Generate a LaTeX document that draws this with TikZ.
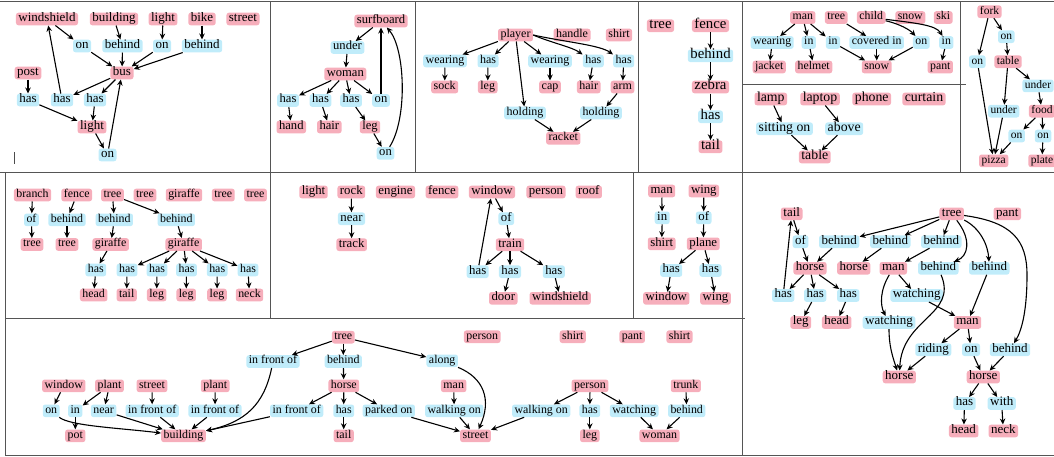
\documentclass[tikz,border=0pt]{standalone}
\usepackage{fontspec}
\setmainfont{Liberation Serif}
\usetikzlibrary{arrows.meta}
\definecolor{objc}{RGB}{246,174,187}
\definecolor{relc}{RGB}{192,236,250}
\definecolor{framec}{RGB}{85,85,85}
\begin{document}
\begin{tikzpicture}[x=1pt,y=-1pt,
  obj/.style={fill=objc, rounded corners=2.5pt, inner xsep=2.5pt, inner ysep=1.8pt,
              text height=0.69em, text depth=0.21em},
  rel/.style={obj, fill=relc},
  arr/.style={-{Stealth[length=6pt,width=5.5pt]}, line width=1.1pt, black},
  frame/.style={draw=framec, line width=0.9pt},
  fs/.style={font=\fontsize{#1}{#1}\selectfont}]
\useasboundingbox (0,0) rectangle (1054,456);

% ---------- panel frames ----------
\draw[frame] (0,1.5) -- (1054,1.5);
\draw[frame] (0,172.5) -- (1054,172.5);
\draw[frame] (5,318.5) -- (745,318.5);
\draw[frame] (5,455) -- (1054,455);
\draw[frame] (5,172.5) -- (5,455);
\draw[frame] (270,1.5) -- (270,318.5);
\draw[frame] (415,1.5) -- (415,172.5);
\draw[frame] (638,1.5) -- (638,172.5);
\draw[frame] (742,1.5) -- (742,455);
\draw[frame] (960,1.5) -- (960,172.5);
\draw[frame] (742,84.5) -- (966,84.5);
\draw[frame] (633,172.5) -- (633,318.5);
\draw[line width=0.8pt, black!70] (14.3,152) -- (14.3,164);

% ---------- bus ----------
\begin{scope}[fs=13]
\node[obj] (a1) at (47,19) {windshield};
\node[obj] (a2) at (114,19) {building};
\node[obj] (a3) at (163,19) {light};
\node[obj] (a4) at (202,19) {bike};
\node[obj] (a5) at (243,19) {street};
\node[rel] (a6) at (82,46) {on};
\node[rel] (a7) at (122.5,46) {behind};
\node[rel] (a8) at (162,46) {on};
\node[rel] (a9) at (202,46) {behind};
\node[obj] (a10) at (122,73) {bus};
\node[obj] (a11) at (28,73) {post};
\node[rel] (a12) at (28,100) {has};
\node[rel] (a13) at (62,100) {has};
\node[rel] (a14) at (95,100) {has};
\node[obj] (a15) at (92,127) {light};
\node[rel] (a16) at (107.5,155) {on};
\end{scope}
\draw[arr] (a1) -- (a6);
\draw[arr] (a2) -- (a7);
\draw[arr] (a3) -- (a8);
\draw[arr] (a4) -- (a9);
\draw[arr] (a6) -- (a10);
\draw[arr] (a7) -- (a10);
\draw[arr] (a8) -- (a10);
\draw[arr] (a9) -- (a10);
\draw[arr] (a10) -- (a13);
\draw[arr] (a10) -- (a14);
\draw[arr] (a11) -- (a12);
\draw[arr] (a12) -- (a15);
\draw[arr] (a13) -- (a1);
\draw[arr] (a14) -- (a15);
\draw[arr] (a15) -- (a16);
\draw[arr] (a16) -- (a10);

% ---------- surfboard ----------
\begin{scope}[fs=12.6]
\node[obj] (b1) at (381,21) {surfboard};
\node[rel] (b2) at (347.5,47.5) {under};
\node[obj] (b3) at (345.3,74) {woman};
\node[rel] (b4) at (288,100.5) {has};
\node[rel] (b5) at (320.5,100.5) {has};
\node[rel] (b6) at (351,100.5) {has};
\node[rel] (b7) at (381,100.5) {on};
\node[obj] (b8) at (291.3,127) {hand};
\node[obj] (b9) at (329.3,127) {hair};
\node[obj] (b10) at (370,127) {leg};
\node[rel] (b11) at (385.5,153.3) {on};
\end{scope}
\draw[arr] (b1) -- (b2);
\draw[arr] (b2) -- (b3);
\draw[arr] (b3) -- (b4);
\draw[arr] (b3) -- (b5);
\draw[arr] (b3) -- (b6);
\draw[arr] (b3) -- (b7);
\draw[arr] (b7) -- (b7 |- b1.south);
\draw[arr] (b4) -- (b8);
\draw[arr] (b5) -- (b9);
\draw[arr] (b6) -- (b10);
\draw[arr] (b10) -- (b11);
\draw[arr] (b11) .. controls (408,118) and (405,48) .. (b1);

% ---------- player ----------
\begin{scope}[fs=12]
\node[obj] (c1) at (515.5,35) {player};
\node[obj] (c2) at (572,35) {handle};
\node[obj] (c3) at (619,35) {shirt};
\node[rel] (c4) at (445,61) {wearing};
\node[rel] (c5) at (488,61) {has};
\node[rel] (c6) at (550,61) {wearing};
\node[rel] (c7) at (593.3,61) {has};
\node[rel] (c8) at (623.7,61) {has};
\node[obj] (c9) at (444.7,87) {sock};
\node[obj] (c10) at (487.7,87) {leg};
\node[obj] (c11) at (550,87) {cap};
\node[obj] (c12) at (588.7,87) {hair};
\node[obj] (c13) at (622.5,87) {arm};
\node[rel] (c14) at (525,113) {holding};
\node[rel] (c15) at (601,113) {holding};
\node[obj] (c16) at (563.3,138.3) {racket};
\end{scope}
\draw[arr] (c1) -- (c4);
\draw[arr] (c1) -- (c5);
\draw[arr] (c1) -- (c14);
\draw[arr] (c1) -- (c6);
\draw[arr] (c1.east) .. controls (552,43) and (572,47) .. (c7.north west);
\draw[arr] (c1.east) .. controls (565,42) and (600,45) .. (c8.north west);
\draw[arr] (c4) -- (c9);
\draw[arr] (c5) -- (c10);
\draw[arr] (c6) -- (c11);
\draw[arr] (c7) -- (c12);
\draw[arr] (c8) -- (c13);
\draw[arr] (c13) -- (c15);
\draw[arr] (c14) -- (c16);
\draw[arr] (c15) -- (c16);

% ---------- zebra ----------
\begin{scope}[fs=14.8]
\node[obj] (d1) at (660.5,25.7) {tree};
\node[obj] (d2) at (710.5,25.7) {fence};
\node[rel] (d3) at (710.5,55.8) {behind};
\node[obj] (d4) at (710.5,87) {zebra};
\node[rel] (d5) at (710.5,116.7) {has};
\node[obj] (d6) at (710.5,146.7) {tail};
\end{scope}
\draw[arr] (d2) -- (d3);
\draw[arr] (d3) -- (d4);
\draw[arr] (d4) -- (d5);
\draw[arr] (d5) -- (d6);

% ---------- skiing ----------
\begin{scope}[fs=11.8]
\node[obj] (e1) at (802.8,17.5) {man};
\node[obj] (e2) at (836.2,17.5) {tree};
\node[obj] (e3) at (871.2,17.5) {child};
\node[obj] (e4) at (910.3,17.5) {snow};
\node[obj] (e5) at (943.2,17.5) {ski};
\node[rel] (e6) at (772.2,42.5) {wearing};
\node[rel] (e7) at (808.8,42.5) {in};
\node[rel] (e8) at (833,42.5) {in};
\node[rel] (e9) at (876.7,42.5) {covered in};
\node[rel] (e10) at (921.3,42.5) {on};
\node[rel] (e11) at (946.3,42.5) {in};
\node[obj] (e12) at (769.2,67) {jacket};
\node[obj] (e13) at (813.7,67) {helmet};
\node[obj] (e14) at (876.7,67) {snow};
\node[obj] (e15) at (940.3,67) {pant};
\end{scope}
\draw[arr] (e1) -- (e6);
\draw[arr] (e1) -- (e7);
\draw[arr] (e1) -- (e8);
\draw[arr] (e2) -- (e9);
\draw[arr] (e3) .. controls (900,24) and (910,30) .. (e10);
\draw[arr] (e3) .. controls (915,23) and (936,25) .. (e11);
\draw[arr] (e6) -- (e12);
\draw[arr] (e7) -- (e13);
\draw[arr] (e8) -- (e14);
\draw[arr] (e9) -- (e14);
\draw[arr] (e10) -- (e14);
\draw[arr] (e11) -- (e15);

% ---------- table ----------
\begin{scope}[fs=13.8]
\node[obj] (e16) at (770.8,99) {lamp};
\node[obj] (e17) at (820,99) {laptop};
\node[obj] (e18) at (871.7,99) {phone};
\node[obj] (e19) at (924,99) {curtain};
\node[rel] (e20) at (784.5,128.7) {sitting on};
\node[rel] (e21) at (844.2,128.7) {above};
\node[obj] (e22) at (814.8,157) {table};
\end{scope}
\draw[arr] (e16) -- (e20);
\draw[arr] (e17) -- (e21);
\draw[arr] (e20) -- (e22);
\draw[arr] (e21) -- (e22);

% ---------- pizza ----------
\begin{scope}[fs=11.5]
\node[obj] (f1) at (989.5,11.7) {fork};
\node[rel] (f2) at (1006.3,36.7) {on};
\node[rel] (f3) at (977.3,61.7) {on};
\node[obj] (f4) at (1008,61.7) {table};
\node[rel] (f5) at (1038,85.8) {under};
\node[rel] (f6) at (1003.7,111.2) {under};
\node[obj] (f7) at (1042,111.2) {food};
\node[rel] (f8) at (1016.7,136) {on};
\node[rel] (f9) at (1043,136) {on};
\node[obj] (f10) at (993.7,160.8) {pizza};
\node[obj] (f11) at (1042,160.8) {plate};
\end{scope}
\draw[arr] (f1) -- (f3);
\draw[arr] (f1) -- (f2);
\draw[arr] (f2) -- (f4);
\draw[arr] (f4) -- (f5);
\draw[arr] (f4) -- (f6);
\draw[arr] (f5) -- (f7);
\draw[arr] (f3) -- (f10);
\draw[arr] (f6) -- (f10);
\draw[arr] (f7) -- (f8);
\draw[arr] (f7) -- (f9);
\draw[arr] (f8) -- (f10);
\draw[arr] (f9) -- (f11);

% ---------- giraffes ----------
\begin{scope}[fs=11.9]
\node[obj] (g1) at (32.5,195) {branch};
\node[obj] (g2) at (76.7,195) {fence};
\node[obj] (g3) at (112.5,195) {tree};
\node[obj] (g4) at (145,195) {tree};
\node[obj] (g5) at (184,195) {giraffe};
\node[obj] (g6) at (223.3,195) {tree};
\node[obj] (g7) at (255.5,195) {tree};
\node[rel] (g8) at (31.5,219.8) {of};
\node[rel] (g9) at (67,219.8) {behind};
\node[rel] (g10) at (114.3,219.8) {behind};
\node[rel] (g11) at (176.3,219.8) {behind};
\node[obj] (g12) at (32,244.5) {tree};
\node[obj] (g13) at (67,244.5) {tree};
\node[obj] (g14) at (110.7,244.5) {giraffe};
\node[obj] (g15) at (183.7,244.5) {giraffe};
\node[rel] (g16) at (95.8,270) {has};
\node[rel] (g17) at (127,270) {has};
\node[rel] (g18) at (157,270) {has};
\node[rel] (g19) at (186.5,270) {has};
\node[rel] (g20) at (217.2,270) {has};
\node[rel] (g21) at (248,270) {has};
\node[obj] (g22) at (93.7,295) {head};
\node[obj] (g23) at (126.7,295) {tail};
\node[obj] (g24) at (156.7,295) {leg};
\node[obj] (g25) at (186.2,295) {leg};
\node[obj] (g26) at (217,295) {leg};
\node[obj] (g27) at (249.5,295) {neck};
\end{scope}
\draw[arr] (g1) -- (g8);
\draw[arr] (g8) -- (g12);
\draw[arr] (g2) -- (g9);
\draw[arr] (g9) -- (g13);
\draw[arr] (g3) -- (g10);
\draw[arr] (g10) -- (g14);
\draw[arr] (g3) -- (g11);
\draw[arr] (g11) -- (g15);
\draw[arr] (g14) -- (g16);
\draw[arr] (g16) -- (g22);
\foreach \h/\t in {g17/g23,g18/g24,g19/g25,g20/g26,g21/g27} {
  \draw[arr] (g15) -- (\h);
  \draw[arr] (\h) -- (\t);
}

% ---------- train ----------
\begin{scope}[fs=12.8]
\node[obj] (h1) at (313.5,192) {light};
\node[obj] (h2) at (351.3,192) {rock};
\node[obj] (h3) at (395.5,192) {engine};
\node[obj] (h4) at (442,192) {fence};
\node[obj] (h5) at (492,192) {window};
\node[obj] (h6) at (546,192) {person};
\node[obj] (h7) at (588.8,192) {roof};
\node[rel] (h8) at (351.5,218.7) {near};
\node[obj] (h9) at (351.7,244.7) {track};
\node[rel] (h10) at (506.3,218.7) {of};
\node[obj] (h11) at (510,244.7) {train};
\node[rel] (h12) at (477.7,271.7) {has};
\node[rel] (h13) at (510,271.7) {has};
\node[rel] (h14) at (553.8,271.7) {has};
\node[obj] (h15) at (503.3,298.3) {door};
\node[obj] (h16) at (560.2,298.3) {windshield};
\end{scope}
\draw[arr] (h2) -- (h8);
\draw[arr] (h8) -- (h9);
\draw[arr] (h5) -- (h10);
\draw[arr] (h10) -- (h11);
\draw[arr] (h11) -- (h12);
\draw[arr] (h11) -- (h13);
\draw[arr] (h11) -- (h14);
\draw[arr] (h12) -- (h5);
\draw[arr] (h13) -- (h15);
\draw[arr] (h14) -- (h16);

% ---------- plane ----------
\begin{scope}[fs=12.8]
\node[obj] (i1) at (661.7,191) {man};
\node[obj] (i2) at (703.8,191) {wing};
\node[rel] (i3) at (662.2,217.8) {in};
\node[rel] (i4) at (703.7,217.8) {of};
\node[obj] (i5) at (661.7,243.8) {shirt};
\node[obj] (i6) at (703.3,243.8) {plane};
\node[rel] (i7) at (671.2,270.5) {has};
\node[rel] (i8) at (710.5,270.5) {has};
\node[obj] (i9) at (666.3,298.3) {window};
\node[obj] (i10) at (715.5,298.3) {wing};
\end{scope}
\draw[arr] (i1) -- (i3);
\draw[arr] (i3) -- (i5);
\draw[arr] (i2) -- (i4);
\draw[arr] (i4) -- (i6);
\draw[arr] (i6) -- (i7);
\draw[arr] (i7) -- (i9);
\draw[arr] (i6) -- (i8);
\draw[arr] (i8) -- (i10);

% ---------- horses ----------
\begin{scope}[fs=13]
\node[obj] (j1) at (791.7,213.8) {tail};
\node[obj] (j2) at (951.7,213.8) {tree};
\node[obj] (j3) at (1007.3,213.8) {pant};
\node[rel] (j4) at (800.5,241.7) {of};
\node[rel] (j5) at (839.2,241.7) {behind};
\node[rel] (j6) at (890.3,241.7) {behind};
\node[rel] (j7) at (941.3,241.7) {behind};
\node[obj] (j8) at (810,268.3) {horse};
\node[obj] (j9) at (853.7,268.3) {horse};
\node[obj] (j10) at (893.3,268.3) {man};
\node[rel] (j11) at (938.3,268.3) {behind};
\node[rel] (j12) at (989.3,268.3) {behind};
\node[rel] (j13) at (783.2,295.5) {has};
\node[rel] (j14) at (815.2,295.5) {has};
\node[rel] (j15) at (848.3,295.5) {has};
\node[rel] (j16) at (916.7,295.5) {watching};
\node[obj] (j17) at (800.7,322.5) {leg};
\node[obj] (j18) at (836.7,322.5) {head};
\node[rel] (j19) at (889,322.5) {watching};
\node[obj] (j20) at (967.5,322.5) {man};
\node[rel] (j21) at (933.3,349.7) {riding};
\node[rel] (j22) at (971,349.7) {on};
\node[rel] (j23) at (1010,349.7) {behind};
\node[obj] (j24) at (899.3,377) {horse};
\node[obj] (j25) at (983.3,377) {horse};
\node[rel] (j26) at (964.5,403.5) {has};
\node[rel] (j27) at (1001.7,403.5) {with};
\node[obj] (j28) at (963.7,431) {head};
\node[obj] (j29) at (1003.3,431) {neck};
\end{scope}
\draw[arr] (j1) -- (j4);
\draw[arr] (j4) -- (j8);
\draw[arr] (j5) -- (j8);
\draw[arr] (j13) -- (j1);
\draw[arr] (j8) -- (j13);
\draw[arr] (j8) -- (j14);
\draw[arr] (j8) -- (j15);
\draw[arr] (j14) -- (j17);
\draw[arr] (j15) -- (j18);
\draw[arr] (j2) -- (j5);
\draw[arr] (j2) -- (j6);
\draw[arr] (j2) -- (j7);
\draw[arr] (j2) .. controls (972,240) and (968,256) .. (j11);
\draw[arr] (j2) .. controls (980,228) and (988,245) .. (j12);
\draw[arr] (j2) .. controls (1012,222) and (1027,240) .. (1027,275)
                .. controls (1027,310) and (1022,330) .. (j23);
\draw[arr] (j6) -- (j9);
\draw[arr] (j7) -- (j10);
\draw[arr] (j10) -- (j16);
\draw[arr] (j10) .. controls (880,290) and (880,305) .. (j19);
\draw[arr] (j16) -- (j20);
\draw[arr] (j19) .. controls (889,345) and (892,355) .. (j24);
\draw[arr] (j11) .. controls (958,315) and (902,318) .. (j24);
\draw[arr] (j12) -- (j20);
\draw[arr] (j20) -- (j21);
\draw[arr] (j20) -- (j22);
\draw[arr] (j21) -- (j24);
\draw[arr] (j22) -- (j25);
\draw[arr] (j23) -- (j25);
\draw[arr] (j25) -- (j26);
\draw[arr] (j25) -- (j27);
\draw[arr] (j26) -- (j28);
\draw[arr] (j27) -- (j29);

% ---------- street scene ----------
\begin{scope}[fs=11.9]
\node[obj] (k1) at (343.3,337.2) {tree};
\node[rel] (k2) at (273,361.5) {in front of};
\node[rel] (k3) at (343.3,361.5) {behind};
\node[rel] (k4) at (442.2,360.8) {along};
\node[obj] (k5) at (63.8,385.8) {window};
\node[obj] (k6) at (109.5,385.8) {plant};
\node[obj] (k7) at (152,385.8) {street};
\node[obj] (k8) at (215.2,385.8) {plant};
\node[obj] (k9) at (343.8,385.8) {horse};
\node[obj] (k10) at (453.7,385.8) {man};
\node[obj] (k11) at (590,385.8) {person};
\node[obj] (k12) at (685.8,385.8) {trunk};
\node[rel] (k13) at (51.2,410.8) {on};
\node[rel] (k14) at (75.3,410.8) {in};
\node[rel] (k15) at (103.7,410.8) {near};
\node[rel] (k16) at (152.2,410.8) {in front of};
\node[rel] (k17) at (215,410.8) {in front of};
\node[rel] (k18) at (296.7,410.8) {in front of};
\node[rel] (k19) at (343.7,410.8) {has};
\node[rel] (k20) at (388.8,410.8) {parked on};
\node[rel] (k21) at (454.2,410.8) {walking on};
\node[rel] (k22) at (541.2,410.8) {walking on};
\node[rel] (k23) at (589.8,410.8) {has};
\node[rel] (k24) at (634.2,410.8) {watching};
\node[rel] (k25) at (686.7,410.8) {behind};
\node[obj] (k26) at (75.3,435.8) {pot};
\node[obj] (k27) at (183.5,435.8) {building};
\node[obj] (k28) at (343.7,435.8) {tail};
\node[obj] (k29) at (475.5,435.8) {street};
\node[obj] (k30) at (589.8,435.8) {leg};
\node[obj] (k31) at (659.5,435.8) {woman};
\node[obj] (k32) at (482.2,336.7) {person};
\node[obj] (k33) at (572.8,336.7) {shirt};
\node[obj] (k34) at (632.2,336.7) {pant};
\node[obj] (k35) at (679.5,336.7) {shirt};
\end{scope}
\draw[arr] (k1) -- (k2);
\draw[arr] (k1) -- (k3);
\draw[arr] (k1) -- (k4);
\draw[arr] (k2) .. controls (264,405) and (245,422) .. (k27);
\draw[arr] (k3) -- (k9);
\draw[arr] (k9) -- (k18);
\draw[arr] (k9) -- (k19);
\draw[arr] (k9) -- (k20);
\draw[arr] (k19) -- (k28);
\draw[arr] (k18) -- (k27);
\draw[arr] (k20) -- (k29);
\draw[arr] (k4) .. controls (484,378) and (492,400) .. (k29);
\draw[arr] (k10) -- (k21);
\draw[arr] (k21) -- (k29);
\draw[arr] (k22) -- (k29);
\draw[arr] (k11) -- (k22);
\draw[arr] (k11) -- (k23);
\draw[arr] (k11) -- (k24);
\draw[arr] (k23) -- (k30);
\draw[arr] (k24) -- (k31);
\draw[arr] (k25) -- (k31);
\draw[arr] (k12) -- (k25);
\draw[arr] (k5) -- (k13);
\draw[arr] (k13) .. controls (70,426) and (120,428) .. (k27);
\draw[arr] (k6) -- (k14);
\draw[arr] (k6) -- (k15);
\draw[arr] (k14) -- (k26);
\draw[arr] (k15) -- (k27);
\draw[arr] (k7) -- (k16);
\draw[arr] (k16) -- (k27);
\draw[arr] (k8) -- (k17);
\draw[arr] (k17) -- (k27);
\end{tikzpicture}
\end{document}
